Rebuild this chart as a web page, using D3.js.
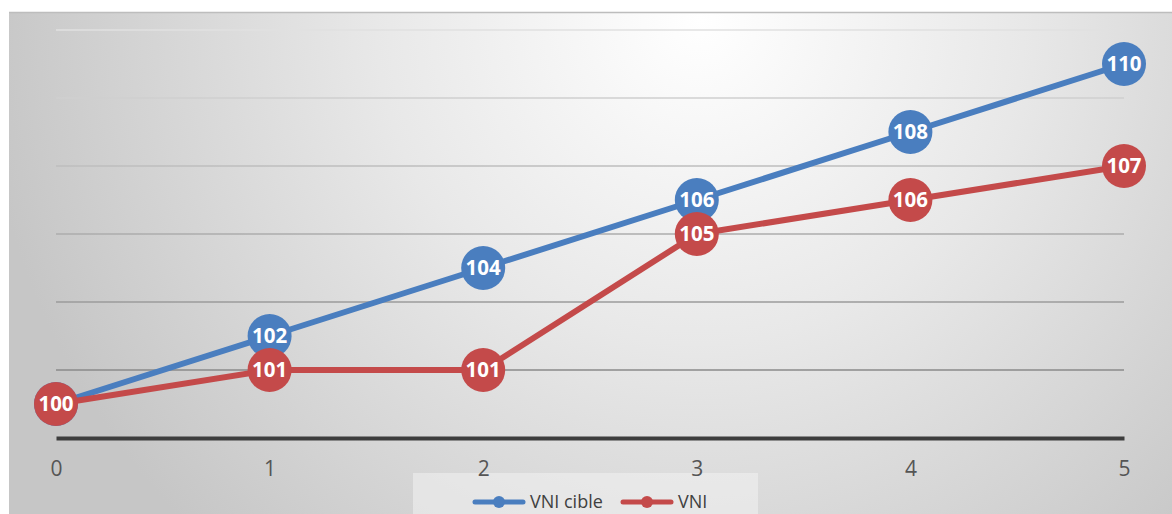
<!DOCTYPE html>
<html>
<head>
<meta charset="utf-8">
<script src="https://cdn.jsdelivr.net/npm/d3@7"></script>
<style>
  html, body { margin: 0; padding: 0; background: #fff; }
  svg { display: block; }
</style>
</head>
<body>
<svg id="chart"></svg>
<script>
const width = 1172, height = 514;

// Data
const periods = [0, 1, 2, 3, 4, 5];
const vniCible = [100, 102, 104, 106, 108, 110];
const vni = [100, 101, 101, 105, 106, 107];
const seriesNames = ["VNI cible", "VNI"];
const gridValues = [101, 103, 105, 107, 109, 111];

const colors = { "VNI cible": "#4a7ebf", "VNI": "#c44a4a" };

const svg = d3.select("#chart")
    .attr("width", width)
    .attr("height", height);

// Background gradient
const defs = svg.append("defs");
const grad = defs.append("radialGradient")
    .attr("id", "bg")
    .attr("gradientUnits", "userSpaceOnUse")
    .attr("cx", 700).attr("cy", 20).attr("r", 720);
grad.append("stop").attr("offset", "0%").attr("stop-color", "#ffffff");
grad.append("stop").attr("offset", "45%").attr("stop-color", "#e8e8e8");
grad.append("stop").attr("offset", "100%").attr("stop-color", "#c6c6c6");

svg.append("rect")
    .attr("x", 9).attr("y", 12)
    .attr("width", width - 9).attr("height", height - 12)
    .attr("fill", "url(#bg)");
svg.append("line")
    .attr("x1", 9).attr("x2", width)
    .attr("y1", 12.5).attr("y2", 12.5)
    .attr("stroke", "#bdbdbd").attr("stroke-width", 1.5);

// Scales
const x = d3.scaleLinear().domain([0, 5]).range([56, 1124]);
const y = d3.scaleLinear().domain([99, 111]).range([438, 30]);
const gridColor = d3.scaleLinear().domain([111, 101]).range(["#e0e0e0", "#8a8a8a"]);

// Gridlines
svg.append("g").selectAll("line")
    .data(gridValues)
    .enter().append("line")
    .attr("x1", x(0)).attr("x2", x(5))
    .attr("y1", d => y(d)).attr("y2", d => y(d))
    .attr("stroke", d => gridColor(d))
    .attr("stroke-width", 1.3);

// Legend box (behind axis labels)
svg.append("rect")
    .attr("x", 413).attr("y", 473)
    .attr("width", 345).attr("height", 41)
    .attr("fill", "#f2f2f2").attr("opacity", 0.55);

// X axis
const xAxis = svg.append("g")
    .attr("transform", `translate(0, ${y(99)})`)
    .attr("font-size", 21)
    .attr("font-family", "'Open Sans', sans-serif")
    .call(d3.axisBottom(x).tickValues(periods).tickSize(0).tickPadding(23).tickFormat(d3.format("d")));
xAxis.attr("font-size", 21).attr("font-family", "'Open Sans', sans-serif");
xAxis.select(".domain")
    .attr("stroke", "#3d3d3d").attr("stroke-width", 4);
xAxis.selectAll("text")
    .attr("fill", "#555")
    .style("font-size", "21px");

// Series
const line = d3.line()
    .x((d, i) => x(periods[i]))
    .y(d => y(d));

const seriesData = [
    { name: "VNI cible", values: vniCible },
    { name: "VNI", values: vni }
];

seriesData.forEach(function(s) {
    const g = svg.append("g");
    g.append("path")
        .datum(s.values)
        .attr("d", line)
        .attr("fill", "none")
        .attr("stroke", colors[s.name])
        .attr("stroke-width", 6)
        .attr("stroke-linejoin", "round");

    const pts = g.selectAll(".pt")
        .data(s.values)
        .enter().append("g")
        .attr("transform", (d, i) => `translate(${x(periods[i])}, ${y(d)})`);
    pts.append("circle")
        .attr("r", 22)
        .attr("fill", colors[s.name]);
    pts.append("text")
        .attr("text-anchor", "middle")
        .attr("dy", "0.36em")
        .attr("fill", "#fff")
        .style("font-family", "'Open Sans', sans-serif")
        .style("font-weight", "bold")
        .style("font-size", "20.5px")
        .text(d => d);
});

// Legend
const legendX = [475, 623];
const legend = svg.selectAll(".legend")
    .data(seriesNames)
    .enter().append("g")
    .attr("class", "legend")
    .attr("transform", (d, i) => `translate(${legendX[i]}, 502)`);
legend.append("line")
    .attr("x1", 0).attr("x2", 48)
    .attr("stroke", d => colors[d])
    .attr("stroke-width", 5)
    .attr("stroke-linecap", "round");
legend.append("circle")
    .attr("cx", 24).attr("r", 6)
    .attr("fill", d => colors[d]);
legend.append("text")
    .attr("x", 55)
    .attr("dy", "0.35em")
    .attr("fill", "#404040")
    .style("font-family", "'Open Sans', sans-serif")
    .style("font-size", "18px")
    .text(d => d);
</script>
</body>
</html>
